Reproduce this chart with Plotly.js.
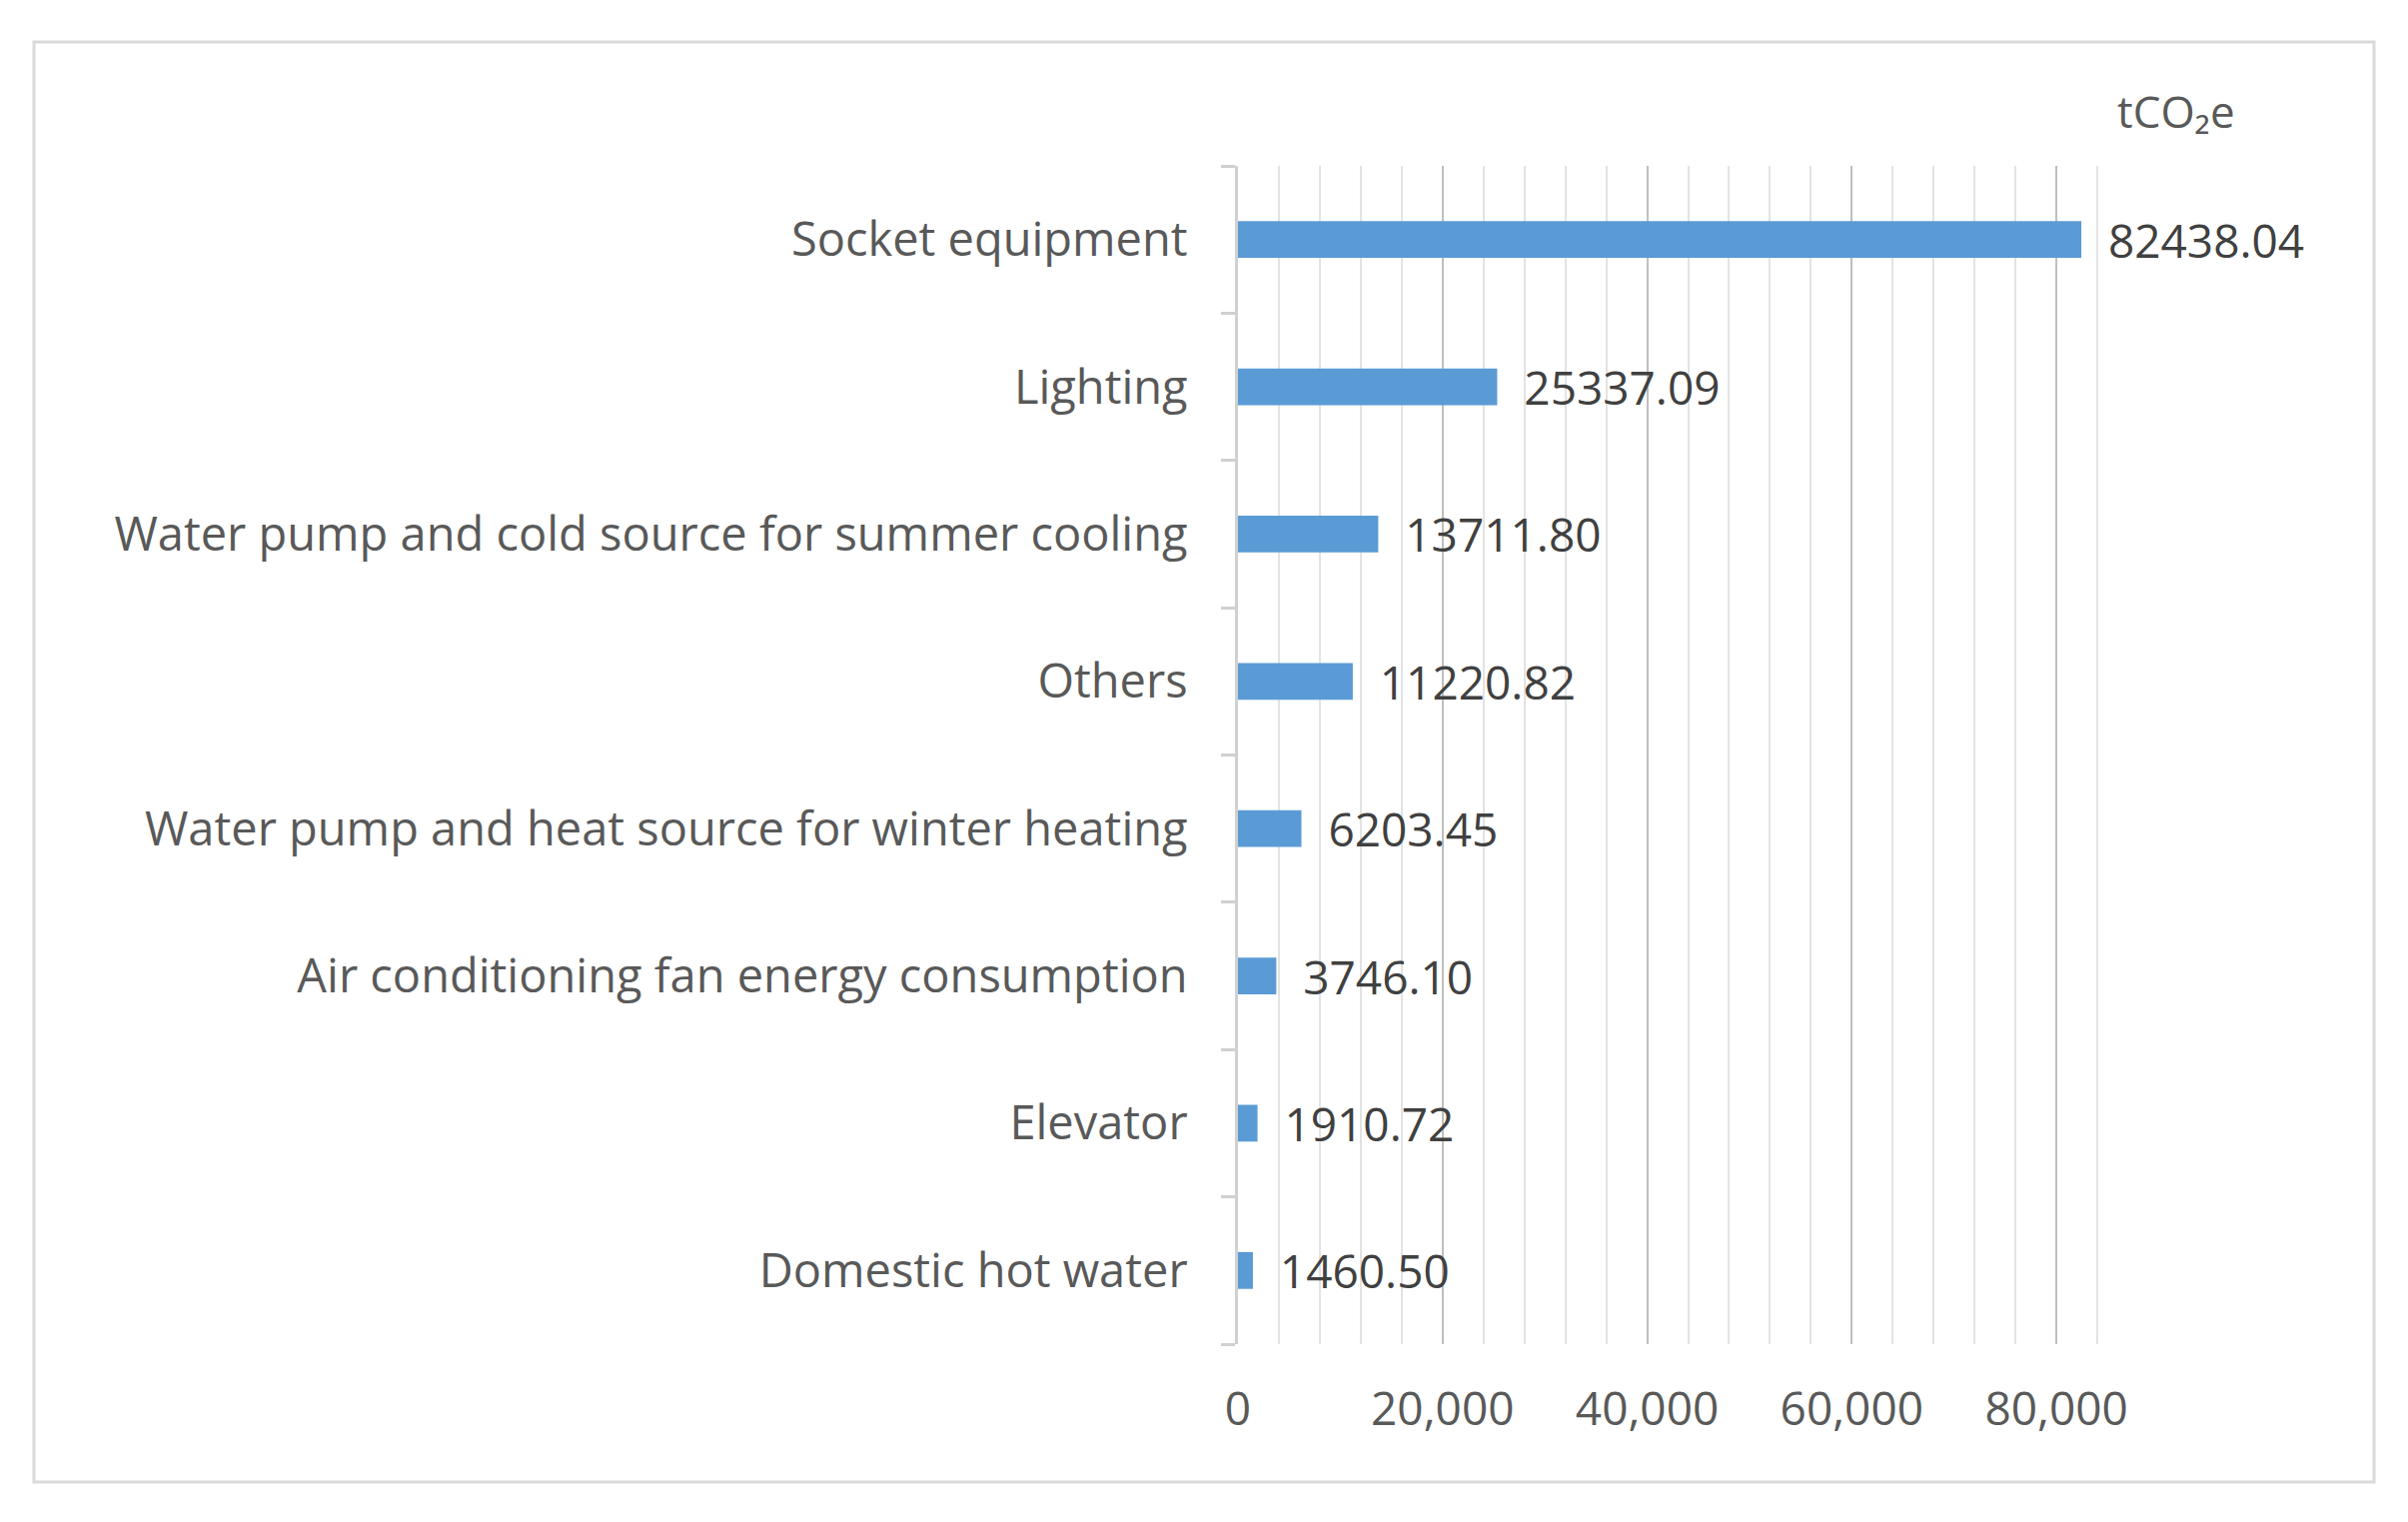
<!DOCTYPE html>
<html>
<head>
<meta charset="utf-8">
<script src="https://cdn.plot.ly/plotly-3.0.1.min.js"></script>
<style>body{margin:0;background:#fff}</style>
</head>
<body>
<div id="chart" style="width:2410px;height:1523px"></div>
<script>
// categories from bottom to top
var categories=['Domestic hot water','Elevator','Air conditioning fan energy consumption','Water pump and heat source for winter heating','Others','Water pump and cold source for summer cooling','Lighting','Socket equipment'];
var values=[1460.50,1910.72,3746.10,6203.45,11220.82,13711.80,25337.09,82438.04];
var tickVals=[0,20000,40000,60000,80000];

var trace={
	type:'bar',
	orientation:'h',
	y:categories,
	x:values,
	marker:{color:'#5b9bd5'},
	text:values.map(function(v){return '  '+v.toFixed(2)}),
	textposition:'outside',
	constraintext:'none',
	cliponaxis:false,
	textfont:{family:'Open Sans, sans-serif',size:46,color:'#404040'}
};

var layout={
	width:2410,height:1523,
	margin:{l:1239,r:270,t:166,b:178},
	paper_bgcolor:'#fff',plot_bgcolor:'#fff',
	bargap:0.75,
	showlegend:false,
	font:{family:'Open Sans, sans-serif',color:'#595959',size:46},
	xaxis:{
		range:[0,88000],
		tickvals:tickVals,
		tickformat:',',
		showgrid:true,gridcolor:'#bfbfbf',gridwidth:2,
		minor:{dtick:4000,showgrid:true,gridcolor:'#e3e3e3',gridwidth:2},
		zeroline:false,showline:false,ticks:'',
		ticklabelstandoff:34,
		tickfont:{size:46,color:'#595959'}
	},
	yaxis:{
		showline:true,linecolor:'#d0d0d0',linewidth:3,
		ticks:'outside',tickson:'boundaries',ticklen:14,tickcolor:'#d0d0d0',tickwidth:3,
		ticklabelstandoff:38,
		tickfont:{size:47,color:'#595959'}
	},
	shapes:[{type:'rect',xref:'paper',yref:'paper',
		x0:-1205/901,x1:1+236/901,y0:-(1483-1345)/1179,y1:1+(166-42)/1179,
		line:{color:'#d9d9d9',width:3}}],
	annotations:[{xref:'paper',yref:'paper',x:(2178-1239)/901,y:1+(166-111)/1179,
		text:'tCO₂e',showarrow:false,xanchor:'center',yanchor:'middle',
		font:{size:44,color:'#595959'}}]
};

Plotly.newPlot('chart',[trace],layout,{displayModeBar:false});
</script>
</body>
</html>
